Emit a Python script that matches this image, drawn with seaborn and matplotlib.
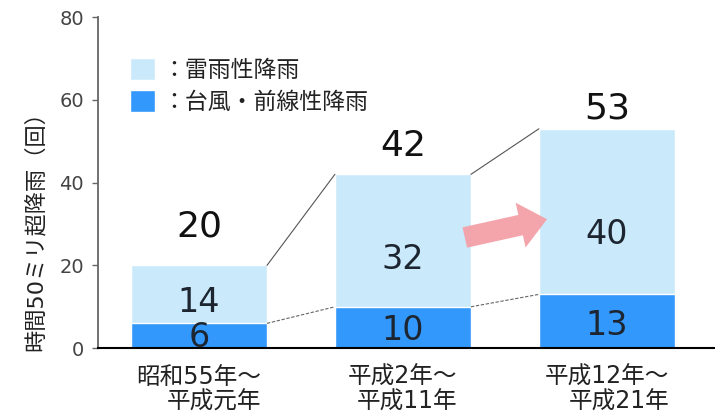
import matplotlib
matplotlib.use("Agg")
import matplotlib.pyplot as plt
import seaborn as sns
import pandas as pd
from matplotlib.patches import FancyArrowPatch

categories = ["昭和55年～\n平成元年", "平成2年～\n平成11年", "平成12年～\n平成21年"]
thunder = [14, 32, 40]          # 雷雨性降雨
typhoon_front = [6, 10, 13]     # 台風・前線性降雨
totals = [20, 42, 53]
yticks = [0, 20, 40, 60, 80]
legend_labels = ["：雷雨性降雨", "：台風・前線性降雨"]
ylabel = "時間50ミリ超降雨（回）"

# layout: offsets of the total labels above each bar (data units)
total_label_gap = [9.5, 6.8, 5.0]

light = "#CAEAFB"
dark = "#3398FB"

sns.set_style("white")
plt.rcParams["font.family"] = ["DejaVu Sans", "Noto Sans CJK JP"]

df = pd.DataFrame({
    "period": categories,
    "total": [a + b for a, b in zip(thunder, typhoon_front)],
    "lower": typhoon_front,
})

fig = plt.figure(figsize=(7.15, 4.16), dpi=100)
ax = fig.add_axes([0.137, 0.163, 0.863, 0.796])

sns.barplot(data=df, x="period", y="total", color=light, width=0.667,
            saturation=1, ax=ax, label=legend_labels[0])
sns.barplot(data=df, x="period", y="lower", color=dark, width=0.667,
            saturation=1, ax=ax, label=legend_labels[1])

ax.set_xlim(-0.495, 2.53)
ax.set_ylim(0, 80)
ax.set_yticks(yticks)
ax.set_xlabel("")
ax.set_ylabel(ylabel, fontsize=16, color="#222222")
ax.yaxis.set_label_coords(-0.084, 0.37)

# connecting lines between bars
hw = 0.667 / 2
tot = df["total"].tolist()
low = df["lower"].tolist()
for i in range(len(categories) - 1):
    ax.plot([i + hw, i + 1 - hw], [tot[i], tot[i + 1]], color="#555555", lw=0.8)
    ax.plot([i + hw, i + 1 - hw], [low[i], low[i + 1]], color="#666666", lw=0.8,
            ls=(0, (3, 1.5)))

# value labels
for i in range(len(categories)):
    ax.text(i, tot[i] + total_label_gap[i], str(totals[i]), ha="center",
            va="center", fontsize=26, color="#111111")
    ax.text(i, low[i] + thunder[i] * 0.36, str(thunder[i]), ha="center",
            va="center", fontsize=24, color="#1c2530")
    ax.text(i, low[i] * 0.42, str(typhoon_front[i]), ha="center",
            va="center", fontsize=24, color="#1c2530")

# arrow
arrow = FancyArrowPatch((1.29, 26.6), (1.72, 31.3),
                        arrowstyle="simple,head_length=1.3,head_width=2.2,tail_width=1",
                        mutation_scale=15, color="#F4A0A8", lw=0, alpha=0.95)
ax.add_patch(arrow)

# spines and ticks
for s in ["top", "right"]:
    ax.spines[s].set_visible(False)
ax.spines["left"].set_color("#666666")
ax.spines["left"].set_linewidth(1.3)
ax.spines["bottom"].set_color("black")
ax.spines["bottom"].set_linewidth(1.5)
ax.tick_params(axis="y", length=4, width=1, color="#666666", labelsize=14,
               labelcolor="#444444", pad=6, left=True)
ax.tick_params(axis="x", length=0, labelsize=17, labelcolor="#222222", pad=12)
for lbl in ax.get_xticklabels():
    lbl.set_multialignment("right")
    lbl.set_linespacing(1.05)

leg = ax.legend(loc="upper left", bbox_to_anchor=(0.037, 0.903), frameon=False,
                fontsize=16.5, handlelength=1.1, handleheight=1.1,
                handletextpad=0.3, labelspacing=0.36, borderaxespad=0)
for t in leg.get_texts():
    t.set_color("#222222")

fig.savefig("out.png", dpi=100)
